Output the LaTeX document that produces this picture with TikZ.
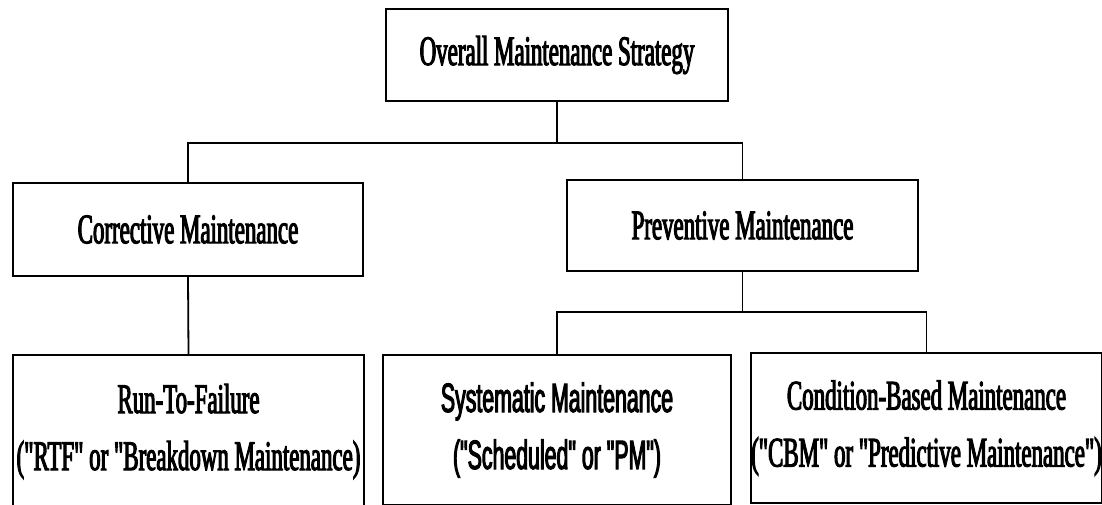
\documentclass[tikz,border=0pt]{standalone}
\usepackage{fontspec}
\newfontfamily\boxserif[FakeStretch=0.545,FakeBold=2.5]{Liberation Serif}
\newfontfamily\boxsans[FakeStretch=0.52,FakeBold=2.5]{Liberation Sans}

\begin{document}
\begin{tikzpicture}[x=1pt,y=-1pt,
  box/.style={draw, line width=1.8pt, inner sep=0pt, align=center,
    font=\boxserif\fontsize{42}{57}\selectfont},
  sansbox/.style={box, font=\boxsans\fontsize{41}{57}\selectfont},
  link/.style={line width=1.8pt}]
\useasboundingbox (0,0) rectangle (1102,505);

% top level
\node[box, minimum width=342pt, minimum height=92pt] (overall) at (557,55)
  {Overall Maintenance Strategy};

% second level
\node[box, minimum width=350pt, minimum height=93pt] (corr) at (188,229.5)
  {Corrective Maintenance};
\node[box, minimum width=351pt, minimum height=91pt] (prev) at (742.5,225.5)
  {Preventive Maintenance};

% third level
\node[box, anchor=north, minimum width=351pt, minimum height=153pt] (rtf) at (188.5,354)
  {Run-To-Failure\\("RTF" or "Breakdown Maintenance)};
\node[sansbox, anchor=north, minimum width=348pt, minimum height=150pt] (sys) at (557,354)
  {Systematic Maintenance\\("Scheduled" or "PM")};
\node[box, anchor=north, minimum width=347pt, minimum height=150pt] (cbm) at (926.5,352)
  {Condition-Based Maintenance\\("CBM" or "Predictive Maintenance")};

% connectors
\coordinate (bus1) at (557,143);
\coordinate (bus2) at (742.5,312);
\draw[link] (overall.south) -- (bus1);
\draw[link] (corr.north) |- (bus1) -| (prev.north);
\draw[link] (corr.south) -- (rtf.north);
\draw[link] (prev.south) -- (bus2);
\draw[link] (sys.north) |- (bus2) -| (cbm.north);
\end{tikzpicture}
\end{document}
